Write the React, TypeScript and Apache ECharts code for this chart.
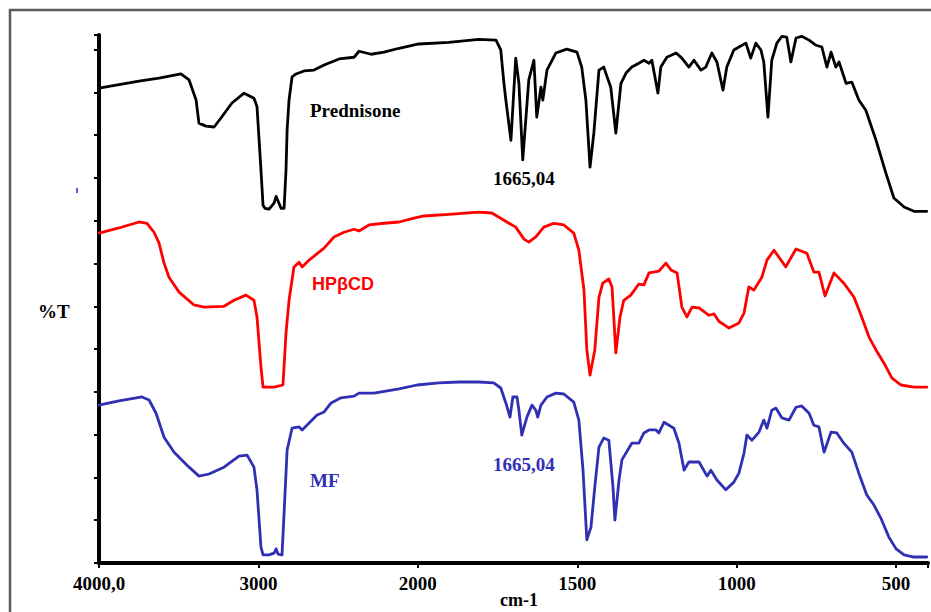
import React, { useEffect, useRef } from "react";
import * as echarts from "echarts";

// X tick labels (wavenumber, cm-1); the instrument axis is compressed above 2000 cm-1
const xTickLabels = ["4000,0", "3000", "2000", "1500", "1000", "500"];

// Prednisone (black)
const predWn = [4000,3749,3624,3486,3435,3391,3373,3329,3278,3235,3166,3090,3028,3009,2984,2971,2959,2933,2902,2889,2877,2858,2839,2827,2820,2808,2789,2764,2714,2651,2588,2494,2400,2369,2293,2212,2118,1997,1903,1809,1755,1740,1730,1724,1708,1693,1683,1671,1652,1636,1627,1614,1608,1595,1567,1533,1501,1486,1473,1460,1448,1432,1417,1395,1379,1363,1347,1329,1307,1291,1275,1266,1247,1238,1219,1190,1172,1150,1134,1112,1097,1078,1062,1043,1031,1009,993,971,956,940,924,915,902,890,874,858,843,830,814,796,773,751,733,717,704,689,679,657,639,617,595,563,532,507,475,444,404];
const predT = [111.0,112.6,113.3,114.3,112.9,108.2,102.8,102.1,101.9,104.0,107.5,109.8,108.6,106.7,91.8,83.6,82.9,82.7,84.1,85.7,84.6,82.9,82.9,91.8,101.2,108.2,113.6,114.3,115.0,115.2,116.4,117.8,118.2,119.6,118.9,119.4,120.3,121.3,121.7,122.4,122.2,119.9,112.1,108.2,98.8,118.0,112.1,94.2,112.9,117.5,104.2,111.2,108.2,115.2,119.2,120.1,119.4,115.9,108.2,92.5,100.5,115.2,115.9,111.2,100.5,112.1,114.5,115.9,116.8,117.5,116.8,117.5,109.8,115.9,118.2,119.2,118.0,115.9,117.5,115.2,115.9,119.2,117.1,110.5,115.9,119.9,120.6,121.5,118.0,121.5,119.9,117.1,104.2,117.5,121.5,123.1,122.9,117.1,122.7,123.1,122.2,121.0,120.6,115.9,119.4,115.9,117.1,112.1,112.4,108.2,105.8,98.8,91.1,85.3,83.2,82.2,82.2];

// HPβCD (red)
const hpWn = [4000,3875,3749,3699,3655,3624,3592,3561,3498,3404,3341,3216,3153,3078,3028,3009,2984,2971,2902,2846,2827,2808,2777,2745,2726,2682,2588,2526,2463,2400,2369,2306,2212,2118,2024,1981,1903,1809,1768,1730,1693,1667,1652,1630,1605,1573,1542,1511,1495,1479,1470,1460,1445,1432,1420,1401,1391,1379,1366,1354,1332,1307,1291,1275,1244,1222,1206,1187,1172,1156,1140,1118,1087,1071,1056,1024,993,977,962,946,921,905,883,846,814,780,758,742,723,695,664,632,610,585,563,538,513,485,444,404];
const hpT = [77.1,78.3,79.7,79.4,77.3,74.8,70.1,66.8,63.3,60.3,59.8,60.0,61.4,62.6,61.4,57.5,45.8,41.1,41.1,41.6,53.7,61.4,69.2,70.3,69.2,70.8,73.6,76.2,77.3,78.0,77.6,79.0,79.4,79.7,80.6,81.1,81.5,82.0,81.8,80.1,78.5,75.7,75.0,76.2,78.5,79.4,79.0,77.1,73.1,63.8,49.8,43.9,49.8,62.1,65.4,66.4,64.5,49.1,57.5,61.4,62.6,65.2,65.0,67.8,68.2,70.1,68.5,67.8,59.8,57.5,59.8,59.6,57.9,58.2,56.5,54.9,56.1,58.4,64.5,63.8,66.8,70.8,73.1,69.2,73.4,72.4,68.0,68.0,62.4,67.8,65.4,62.1,57.9,52.8,49.8,46.7,43.2,41.6,41.1,41.1];

// MF (blue)
const mfWn = [4000,3875,3730,3686,3642,3592,3529,3435,3373,3310,3216,3122,3071,3028,3009,2984,2971,2933,2902,2889,2877,2852,2839,2820,2789,2745,2726,2682,2632,2588,2544,2482,2400,2369,2275,2118,2005,1934,1871,1809,1762,1740,1724,1711,1702,1689,1683,1674,1658,1642,1630,1624,1614,1595,1567,1542,1511,1495,1482,1470,1457,1445,1432,1417,1401,1388,1382,1369,1360,1329,1307,1291,1275,1253,1244,1228,1197,1181,1165,1150,1118,1093,1081,1062,1034,1009,993,977,968,952,930,915,905,890,877,858,836,814,796,773,758,742,726,704,686,664,639,617,592,570,548,523,500,475,444,404];
const mfT = [36.9,37.9,38.8,38.1,35.0,29.4,25.9,22.4,20.3,20.8,22.4,25.0,25.2,22.4,17.1,3.7,1.9,1.9,2.3,3.3,2.1,1.9,11.7,26.4,31.5,31.8,31.1,32.7,34.6,35.3,37.4,38.6,39.0,39.7,39.7,40.7,41.6,42.1,42.3,42.3,42.1,40.9,37.4,34.1,38.8,38.8,35.7,29.9,34.1,36.9,35.7,34.1,36.9,38.8,39.7,39.5,37.6,33.4,21.7,5.4,8.4,17.8,27.1,29.2,28.7,17.8,10.0,19.4,24.1,28.0,28.0,30.4,31.1,31.1,30.4,32.9,31.5,28.0,21.7,23.6,23.6,20.3,21.7,19.4,17.1,18.9,21.0,25.7,29.9,28.7,30.6,33.4,31.5,35.7,36.2,33.9,33.4,36.4,36.7,35.0,32.2,31.8,25.9,30.6,30.4,28.0,25.9,21.0,15.9,13.6,10.5,6.1,3.3,1.9,1.4,1.4];

// piecewise-linear wavenumber scale: 1000 cm-1 per unit above 2000, 500 cm-1 per unit below
const toU = (w: number) => (w >= 2000 ? (4000 - w) / 1000 : 2 + (2000 - w) / 500);
const build = (wn: number[], t: number[]) => wn.map((w, i) => [toU(w), t[i]]);

const SERIF = "'Liberation Serif', 'Times New Roman', serif";
const BLUE = "#3030b4";

export default function App() {
  const ref = useRef<HTMLDivElement>(null);
  useEffect(() => {
    if (!ref.current) return;
    const chart = echarts.init(ref.current, undefined, { renderer: "svg" });
    const txt = (text: string, x: number, y: number, fill: string, font: string, align = "left") => ({
      type: "text",
      x,
      y,
      z: 100,
      style: { text, fill, font, align, textAlign: align, verticalAlign: "middle", textVerticalAlign: "middle" },
    });
    const line = (name: string, wn: number[], t: number[], color: string) => ({
      name,
      type: "line",
      data: build(wn, t),
      showSymbol: false,
      lineStyle: { color, width: 2.8, join: "round", cap: "round" },
      itemStyle: { color },
    });
    chart.setOption({
      animation: false,
      backgroundColor: "#ffffff",
      grid: { left: 99, right: 2, top: 35, bottom: 49 },
      xAxis: {
        type: "value",
        min: 0,
        max: 5.2,
        interval: 1,
        splitLine: { show: false },
        axisLine: { show: true, lineStyle: { color: "#000", width: 4 } },
        axisTick: { show: true, length: 5, lineStyle: { color: "#000", width: 2 } },
        axisLabel: {
          margin: 11,
          color: "#000",
          fontFamily: SERIF,
          fontWeight: "bold",
          fontSize: 19,
          showMinLabel: true,
          showMaxLabel: true,
          formatter: (v: number) => {
            const r = Math.round(v);
            return Math.abs(v - r) < 1e-6 && xTickLabels[r] !== undefined ? xTickLabels[r] : "";
          },
        },
      },
      yAxis: {
        type: "value",
        min: 0,
        max: 123.4,
        interval: 10,
        splitLine: { show: false },
        axisLine: { show: true, lineStyle: { color: "#000", width: 4 } },
        axisTick: { show: true, length: 5, lineStyle: { color: "#000", width: 2 } },
        axisLabel: { show: false },
      },
      series: [
        line("Prednisone", predWn, predT, "#000"),
        line("HPβCD", hpWn, hpT, "#ff0000"),
        line("MF", mfWn, mfT, BLUE),
      ],
      graphic: [
        { type: "rect", shape: { x: 10, y: 10, width: 960, height: 660 }, style: { fill: "none", stroke: "#5a5a5a", lineWidth: 2.5 }, silent: true },
        { type: "line", shape: { x1: 77, y1: 188, x2: 77, y2: 193 }, style: { stroke: "#2020e0", lineWidth: 1.5 } },
        txt("%T", 38, 311, "#000", `bold 19px ${SERIF}`),
        txt("cm-1", 519, 600, "#000", `bold 18px ${SERIF}`, "center"),
        txt("Prednisone", 310, 110, "#000", `bold 19px ${SERIF}`),
        txt("HPβCD", 312, 284, "#ff0000", "bold 18px 'Liberation Sans', Arial, sans-serif"),
        txt("MF", 310, 480, BLUE, `bold 19px ${SERIF}`),
        txt("1665,04", 493, 178, "#000", `bold 19px ${SERIF}`),
        txt("1665,04", 493, 464, BLUE, `bold 19px ${SERIF}`),
      ],
    });
    return () => chart.dispose();
  }, []);
  return <div ref={ref} style={{ position: "fixed", left: 0, top: 0, width: 931, height: 612 }} />;
}
